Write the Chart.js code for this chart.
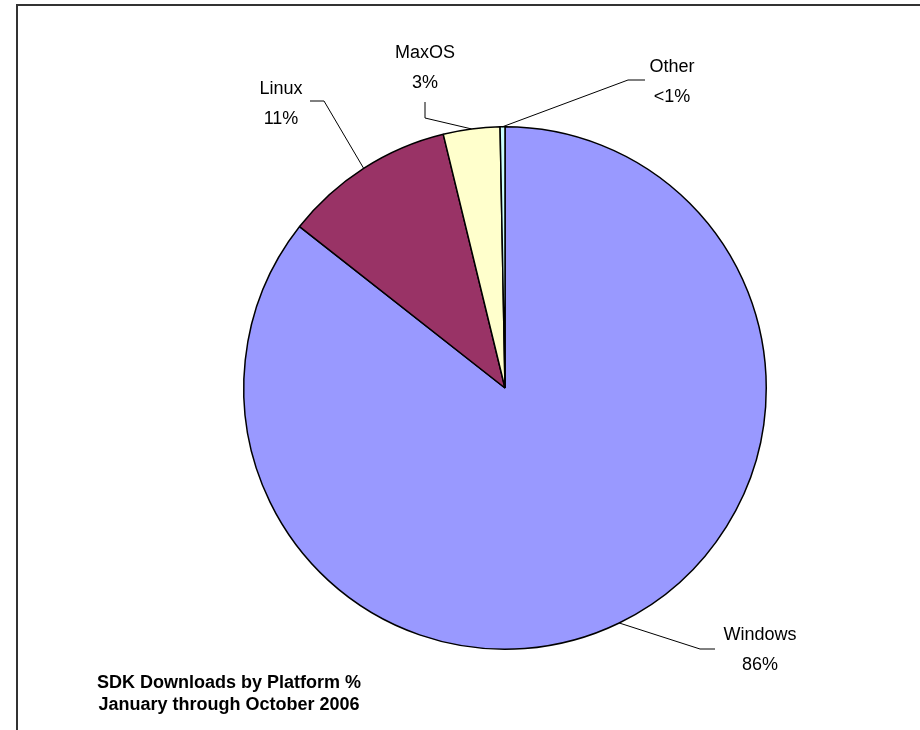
<!DOCTYPE html>
<html>
<head>
<meta charset="utf-8">
<script src="https://cdn.jsdelivr.net/npm/chart.js@4.4.1/dist/chart.umd.min.js"></script>
<style>
  html, body { margin: 0; padding: 0; background: #fff; }
  #wrap { width: 920px; height: 730px; position: relative; }
</style>
</head>
<body>
<div id="wrap"><canvas id="pie" width="920" height="730"></canvas></div>
<script>
// data (share of downloads, %)
const platforms = ['Windows', 'Linux', 'MaxOS', 'Other'];
const shares = [85.6, 10.6, 3.5, 0.3];
const shareLabels = ['86%', '11%', '3%', '<1%'];
const sliceColors = ['#9999FF', '#993366', '#FFFFCC', '#CCFFFF'];
const titleLines = ['SDK Downloads by Platform %', 'January through October 2006'];

// where each label sits (text centre) and the bend of its leader line
const labelPlace = [
    { x: 760, y: 650, bend: [[700, 649], [715, 649]] },
    { x: 281, y: 104, bend: [[324, 101], [310, 101]] },
    { x: 425, y: 68,  bend: [[425, 118], [425, 102]] },
    { x: 672, y: 82,  bend: [[628, 80], [645, 80]] }
];

const frameAndText = {
    id: 'frameAndText',
    afterDraw(chart) {
        const ctx = chart.ctx;
        ctx.save();
        // outer frame (runs off the right and bottom edges)
        ctx.strokeStyle = '#333';
        ctx.lineWidth = 2;
        ctx.strokeRect(17, 5, 940, 760);

        const arcs = chart.getDatasetMeta(0).data;
        ctx.lineWidth = 1;
        ctx.strokeStyle = '#000';
        arcs.forEach((arc, i) => {
            const p = arc.getProps(['x', 'y', 'startAngle', 'endAngle', 'outerRadius'], true);
            const mid = (p.startAngle + p.endAngle) / 2;
            const ex = p.x + Math.cos(mid) * p.outerRadius;
            const ey = p.y + Math.sin(mid) * p.outerRadius;
            const lp = labelPlace[i];
            ctx.beginPath();
            ctx.moveTo(ex, ey);
            ctx.lineTo(lp.bend[0][0], lp.bend[0][1]);
            ctx.lineTo(lp.bend[1][0], lp.bend[1][1]);
            ctx.stroke();

            ctx.fillStyle = '#000';
            ctx.font = '18px "Liberation Sans", Arial, sans-serif';
            ctx.textAlign = 'center';
            ctx.textBaseline = 'middle';
            ctx.fillText(platforms[i], lp.x, lp.y - 15);
            ctx.fillText(shareLabels[i], lp.x, lp.y + 15);
        });

        ctx.font = 'bold 18px "Liberation Sans", Arial, sans-serif';
        ctx.textAlign = 'center';
        ctx.textBaseline = 'middle';
        ctx.fillText(titleLines[0], 229, 683);
        ctx.fillText(titleLines[1], 229, 705);
        ctx.restore();
    }
};

new Chart(document.getElementById('pie'), {
    type: 'pie',
    data: {
        labels: platforms,
        datasets: [{
            data: shares,
            backgroundColor: sliceColors,
            borderColor: '#000',
            borderWidth: 1.5,
            borderAlign: 'center'
        }]
    },
    options: {
        responsive: false,
        animation: false,
        layout: { padding: { left: 243, right: 153, top: 126, bottom: 80 } },
        plugins: {
            legend: { display: false },
            tooltip: { enabled: false },
            title: { display: false }
        }
    },
    plugins: [frameAndText]
});
</script>
</body>
</html>
